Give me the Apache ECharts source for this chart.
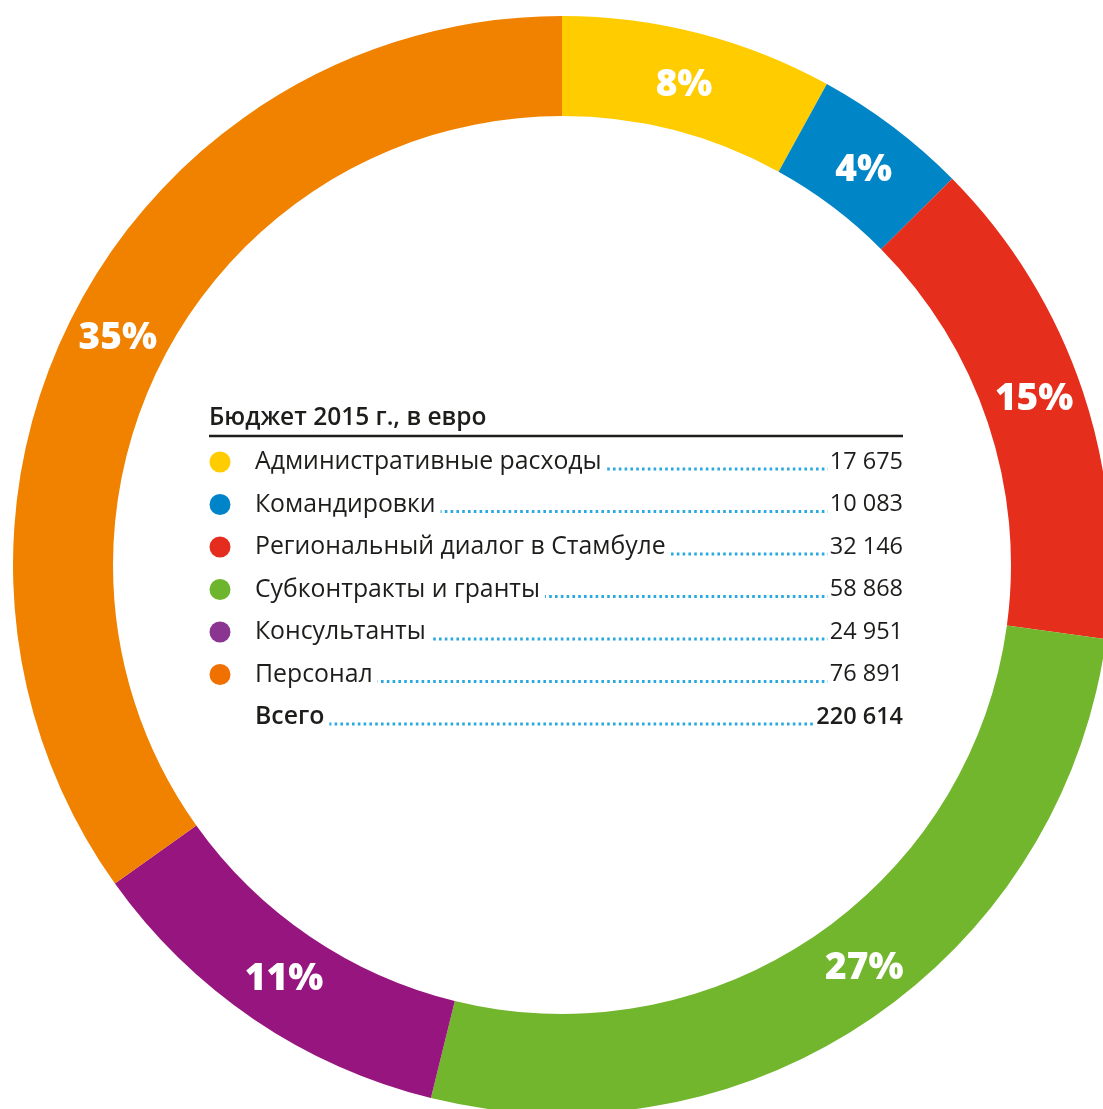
<!DOCTYPE html>
<html>
<head>
<meta charset="utf-8">
<style>
html,body{margin:0;padding:0;background:#fff;}
#chart{width:1103px;height:1109px;}
</style>
<script src="https://cdn.jsdelivr.net/npm/echarts@6/dist/echarts.min.js"></script>
</head>
<body>
<div id="chart"></div>
<script>
var categories = ['Административные расходы','Командировки','Региональный диалог в Стамбуле','Субконтракты и гранты','Консультанты','Персонал'];
var values = [17675, 10083, 32146, 58868, 24951, 76891];
var valueLabels = ['17 675','10 083','32 146','58 868','24 951','76 891'];
var pctLabels = ['8%','4%','15%','27%','11%','35%'];
var sliceColors = ['#FFCC00','#0085C7','#E52E1C','#71B62C','#97157E','#F08200'];
var markerColors = ['#FFCC00','#0084C9','#E52D1F','#6DB52D','#8A3592','#F07000'];
var totalLabel = 'Всего';
var totalValue = '220 614';
var titleText = 'Бюджет 2015 г., в евро';

var FONT = '"Open Sans"';
var chart = echarts.init(document.getElementById('chart'));

var graphics = [];
var left = 209, right = 903, textX = 255, markerX = 220;
graphics.push({type:'text', z:10, x:left, y:418,
  style:{text:titleText, fontFamily:FONT, fontWeight:600, fontSize:24.5, fill:'#1d1d1b', verticalAlign:'middle'}});
graphics.push({type:'line', z:10, shape:{x1:left, y1:436, x2:right, y2:436},
  style:{stroke:'#1d1d1b', lineWidth:2.5}});
var rowY0 = 462, rowStep = 42.5;
var rows = categories.map(function(c,i){return {name:c, val:valueLabels[i], color:markerColors[i], bold:false};});
rows.push({name:totalLabel, val:totalValue, color:null, bold:true});
rows.forEach(function(r,i){
  var y = rowY0 + i*rowStep;
  if (r.color) {
    graphics.push({type:'circle', z:10, shape:{cx:markerX, cy:y, r:10.5}, style:{fill:r.color}});
  }
  graphics.push({type:'line', z:10, shape:{x1:textX+10, y1:y+7, x2:right-10, y2:y+7},
    style:{stroke:'#29A9E1', lineWidth:3, lineDash:[2.6,3.2]}});
  graphics.push({type:'text', z:20, x:textX, y:y,
    style:{text:r.name, fontFamily:FONT, fontWeight:r.bold ? 600 : 400, fontSize:24.8, fill:'#1d1d1b',
      verticalAlign:'middle', align:'left', backgroundColor:'#fff', padding:[2,5,2,0]}});
  graphics.push({type:'text', z:20, x:right, y:y,
    style:{text:r.val, fontFamily:FONT, fontWeight:r.bold ? 600 : 400, fontSize:23.5, fill:'#1d1d1b',
      verticalAlign:'middle', align:'right', backgroundColor:'#fff', padding:[2,0,2,2]}});
});

var labelOffsets = [[-3,7],[-1,6],[-4,-6],[20,-12],[4,-1],[2,3]];

chart.setOption({
  animation:false,
  graphic:graphics,
  series:[{
    type:'pie',
    center:[562,565],
    radius:[449,549],
    startAngle:90,
    clockwise:true,
    avoidLabelOverlap:false,
    silent:true,
    itemStyle:{borderWidth:0},
    label:{show:true, position:'inside', color:'#fff', fontFamily:FONT, fontWeight:800, fontSize:37,
      formatter:function(p){return pctLabels[p.dataIndex];}},
    labelLine:{show:false},
    data:categories.map(function(c,i){
      return {name:c, value:values[i], itemStyle:{color:sliceColors[i]}, label:{offset:labelOffsets[i]}};
    })
  }]
});
</script>
</body>
</html>
